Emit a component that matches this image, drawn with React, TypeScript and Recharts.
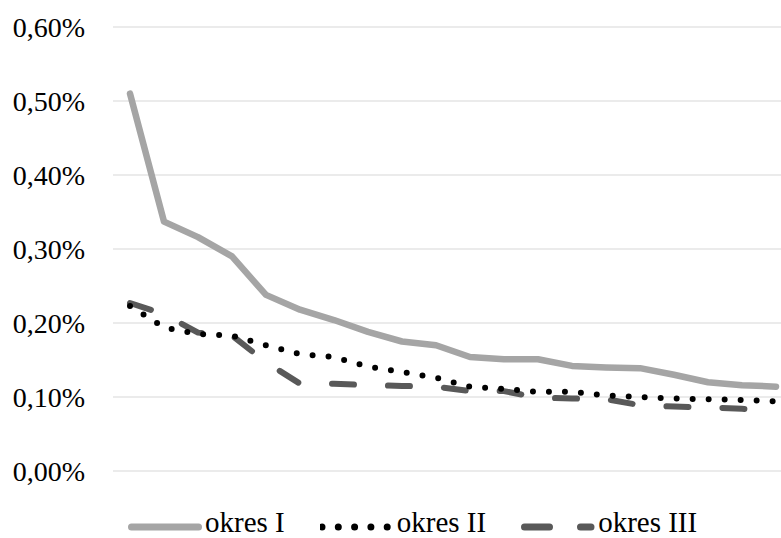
import { CartesianGrid, Legend, Line, LineChart, XAxis, YAxis } from 'recharts';

// Twenty consecutive observations, no labels on the category axis
const periods = [
  '1', '2', '3', '4', '5', '6', '7', '8', '9', '10',
  '11', '12', '13', '14', '15', '16', '17', '18', '19', '20',
];

// Shares in percent (0.51 -> 0,51%)
const okresI = [
  0.51, 0.337, 0.316, 0.29, 0.238, 0.218, 0.204, 0.188, 0.175, 0.17,
  0.154, 0.151, 0.151, 0.142, 0.14, 0.139, 0.13, 0.12, 0.116, 0.114,
];
const okresII = [
  0.223, 0.194, 0.185, 0.183, 0.17, 0.158, 0.154, 0.141, 0.134, 0.126,
  0.114, 0.111, 0.107, 0.107, 0.102, 0.1, 0.098, 0.097, 0.096, 0.094,
];
const okresIII = [
  0.227, 0.212, 0.187, 0.183, 0.147, 0.118, 0.118, 0.116, 0.115, 0.114,
  0.108, 0.108, 0.099, 0.098, 0.097, 0.089, 0.087, 0.086, 0.084, 0.082,
];

const yTicks = [0, 0.1, 0.2, 0.3, 0.4, 0.5, 0.6];

const data = periods.map((name, i) => ({
  name,
  okresI: okresI[i],
  okresII: okresII[i],
  okresIII: okresIII[i],
}));

const FONT = '"Liberation Serif", "Times New Roman", serif';

const series = [
  { key: 'okresI', label: 'okres I', color: '#a5a5a5', width: 6.5, dash: undefined },
  { key: 'okresII', label: 'okres II', color: '#000000', width: 6, dash: '0 16' },
  { key: 'okresIII', label: 'okres III', color: '#595959', width: 6, dash: '22 34' },
];

// legend swatches: [x1, x2, dasharray] inside a 74px wide box
const legendLine: Record<string, [number, number, string | undefined]> = {
  okresI: [3.5, 70.5, undefined],
  okresII: [2, 67.3, '0 16.3'],
  okresIII: [3.5, 70, '25 31'],
};

const formatPercent = (v: number) => `${v.toFixed(2).replace('.', ',')}%`;

function ChartLegend() {
  return (
    <div
      style={{
        boxSizing: 'border-box',
        height: 67,
        paddingTop: 40,
        paddingLeft: 128,
        display: 'flex',
        gap: 35,
        fontFamily: FONT,
        fontSize: 29,
        color: '#000',
      }}
    >
      {series.map((s) => {
        const [x1, x2, dash] = legendLine[s.key];
        return (
          <div key={s.key} style={{ display: 'flex', alignItems: 'center', height: 32 }}>
            <svg width={74} height={12}>
              <line
                x1={x1}
                y1={6}
                x2={x2}
                y2={6}
                stroke={s.color}
                strokeWidth={7}
                strokeLinecap="round"
                strokeDasharray={dash}
              />
            </svg>
            <span
              style={{
                marginLeft: 3,
                whiteSpace: 'nowrap',
                lineHeight: '24px',
                position: 'relative',
                top: -5,
              }}
            >
              {s.label}
            </span>
          </div>
        );
      })}
    </div>
  );
}

export default function App() {
  // dotted series drawn last so its dots sit above the dashes
  const drawOrder = [series[0], series[2], series[1]];
  return (
    <div style={{ position: 'absolute', left: 0, top: 0, width: 781, height: 538, overflow: 'hidden', background: '#fff' }}>
      <LineChart width={781} height={538} data={data} margin={{ top: 27, right: 0, bottom: 0, left: 0 }}>
        <CartesianGrid vertical={false} stroke="#e4e4e4" strokeWidth={1.3} />
        <XAxis
          dataKey="name"
          height={0}
          tick={false}
          tickLine={false}
          axisLine={{ stroke: '#d9d9d9', strokeWidth: 1.3 }}
          padding={{ left: 17, right: 5 }}
        />
        <YAxis
          domain={[0, 0.6]}
          ticks={yTicks}
          tickFormatter={formatPercent}
          width={113}
          tickSize={0}
          tickMargin={28}
          axisLine={false}
          tickLine={false}
          tick={{ fontSize: 28, fill: '#000', fontFamily: FONT }}
        />
        <Legend verticalAlign="bottom" content={<ChartLegend />} wrapperStyle={{ left: 0, width: 781 }} />
        {drawOrder.map((s) => (
          <Line
            key={s.key}
            type="linear"
            dataKey={s.key}
            stroke={s.color}
            strokeWidth={s.width}
            strokeDasharray={s.dash}
            strokeLinecap="round"
            strokeLinejoin="round"
            dot={false}
            activeDot={false}
            isAnimationActive={false}
          />
        ))}
      </LineChart>
    </div>
  );
}
